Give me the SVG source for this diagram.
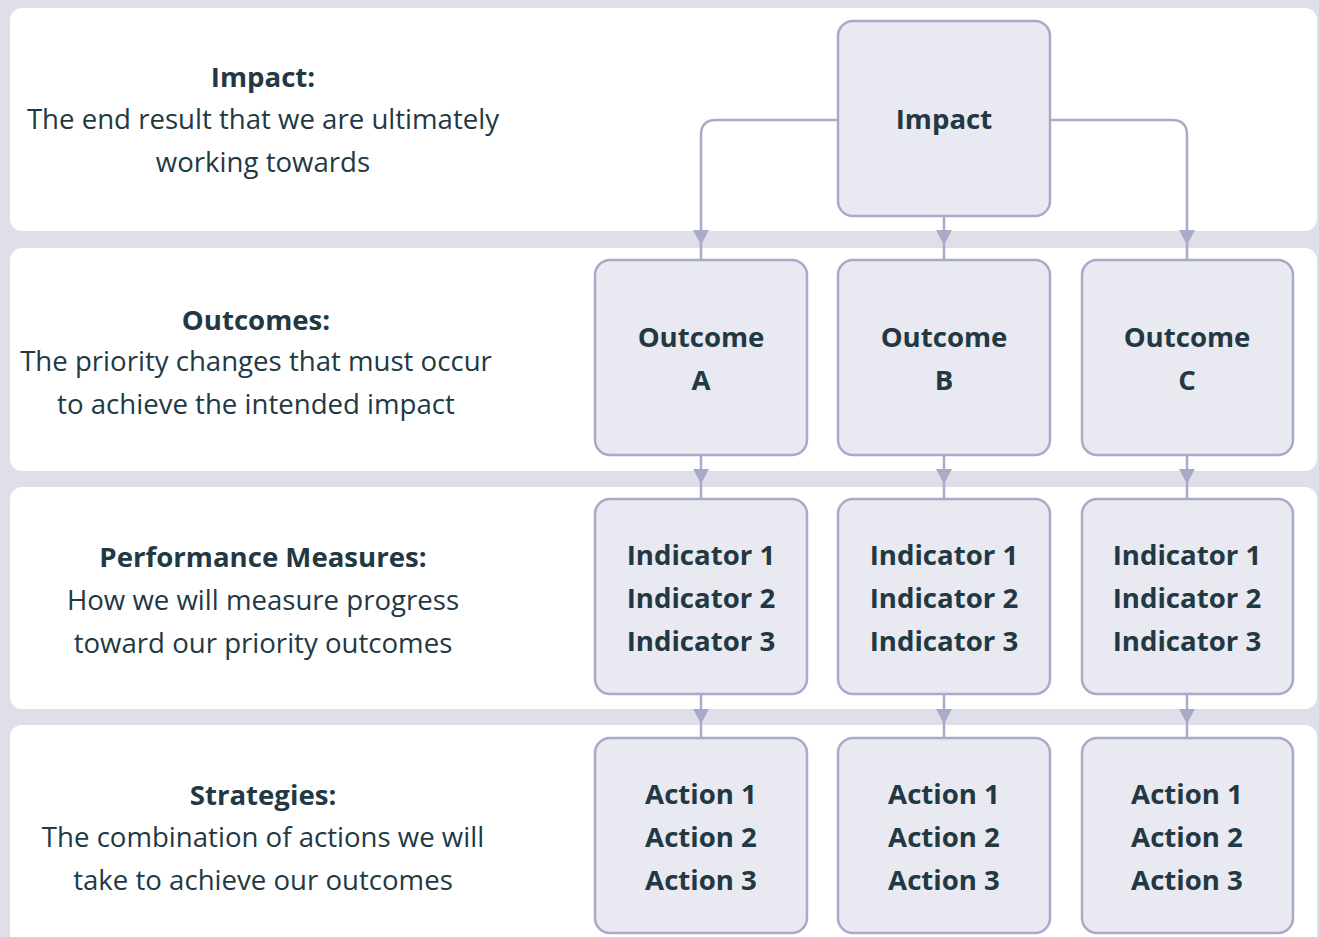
<svg xmlns="http://www.w3.org/2000/svg" width="1319" height="937" viewBox="0 0 1319 937">
<style>
.bg{fill:#dfdfe9}
.lane{fill:#ffffff}
.node rect{fill:#e9e9f1;stroke:#a9a9c8;stroke-width:2.5}
.t{font-family:"Open Sans","Noto Sans",sans-serif;font-size:27.6px;fill:#223843;text-anchor:middle}
.b{font-weight:bold}
.c{fill:none;stroke:#a9a9c8;stroke-width:2.5}
.ah{fill:#a9a9c8}
</style>
<rect class="bg" x="0" y="0" width="1319" height="937"/>
<g id="lanes">
<rect class="lane" x="10" y="8" width="1307" height="223" rx="12"/>
<rect class="lane" x="10" y="248" width="1307" height="223" rx="12"/>
<rect class="lane" x="10" y="487" width="1307" height="222" rx="12"/>
<rect class="lane" x="10" y="725" width="1307" height="230" rx="12"/>
</g>
<g id="lane-labels">
<text class="t b" x="263" y="87">Impact:</text>
<text class="t" x="263" y="129">The end result that we are ultimately</text>
<text class="t" x="263" y="172">working towards</text>
<text class="t b" x="256" y="330">Outcomes:</text>
<text class="t" x="256" y="371">The priority changes that must occur</text>
<text class="t" x="256" y="414">to achieve the intended impact</text>
<text class="t b" x="263" y="567">Performance Measures:</text>
<text class="t" x="263" y="610">How we will measure progress</text>
<text class="t" x="263" y="653">toward our priority outcomes</text>
<text class="t b" x="263" y="805">Strategies:</text>
<text class="t" x="263" y="847">The combination of actions we will</text>
<text class="t" x="263" y="890">take to achieve our outcomes</text>
</g>
<g id="connectors">
<path class="c" d="M838 120 H716 Q701 120 701 135 V260"/>
<path class="c" d="M1050 120 H1172 Q1187 120 1187 135 V260"/>
<path class="c" d="M944 216 V260"/>
<path class="c" d="M701 455 V499"/>
<path class="c" d="M944 455 V499"/>
<path class="c" d="M1187 455 V499"/>
<path class="c" d="M701 694 V738"/>
<path class="c" d="M944 694 V738"/>
<path class="c" d="M1187 694 V738"/>
<path class="ah" d="M693 230 H709 L701 245 Z"/>
<path class="ah" d="M936 230 H952 L944 245 Z"/>
<path class="ah" d="M1179 230 H1195 L1187 245 Z"/>
<path class="ah" d="M693 469 H709 L701 484 Z"/>
<path class="ah" d="M936 469 H952 L944 484 Z"/>
<path class="ah" d="M1179 469 H1195 L1187 484 Z"/>
<path class="ah" d="M693 709 H709 L701 724 Z"/>
<path class="ah" d="M936 709 H952 L944 724 Z"/>
<path class="ah" d="M1179 709 H1195 L1187 724 Z"/>
</g>
<g id="impact" class="node"><rect x="838" y="21" width="212" height="195" rx="15"/><text class="t b" x="944" y="129">Impact</text></g>
<g id="outcome-a" class="node"><rect x="595" y="260" width="212" height="195" rx="15"/><text class="t b" x="701" y="347">Outcome</text><text class="t b" x="701" y="390">A</text></g>
<g id="outcome-b" class="node"><rect x="838" y="260" width="212" height="195" rx="15"/><text class="t b" x="944" y="347">Outcome</text><text class="t b" x="944" y="390">B</text></g>
<g id="outcome-c" class="node"><rect x="1082" y="260" width="211" height="195" rx="15"/><text class="t b" x="1187" y="347">Outcome</text><text class="t b" x="1187" y="390">C</text></g>
<g id="indicators-a" class="node"><rect x="595" y="499" width="212" height="195" rx="15"/><text class="t b" x="701" y="565">Indicator 1</text><text class="t b" x="701" y="608">Indicator 2</text><text class="t b" x="701" y="651">Indicator 3</text></g>
<g id="indicators-b" class="node"><rect x="838" y="499" width="212" height="195" rx="15"/><text class="t b" x="944" y="565">Indicator 1</text><text class="t b" x="944" y="608">Indicator 2</text><text class="t b" x="944" y="651">Indicator 3</text></g>
<g id="indicators-c" class="node"><rect x="1082" y="499" width="211" height="195" rx="15"/><text class="t b" x="1187" y="565">Indicator 1</text><text class="t b" x="1187" y="608">Indicator 2</text><text class="t b" x="1187" y="651">Indicator 3</text></g>
<g id="actions-a" class="node"><rect x="595" y="738" width="212" height="195" rx="15"/><text class="t b" x="701" y="804">Action 1</text><text class="t b" x="701" y="847">Action 2</text><text class="t b" x="701" y="890">Action 3</text></g>
<g id="actions-b" class="node"><rect x="838" y="738" width="212" height="195" rx="15"/><text class="t b" x="944" y="804">Action 1</text><text class="t b" x="944" y="847">Action 2</text><text class="t b" x="944" y="890">Action 3</text></g>
<g id="actions-c" class="node"><rect x="1082" y="738" width="211" height="195" rx="15"/><text class="t b" x="1187" y="804">Action 1</text><text class="t b" x="1187" y="847">Action 2</text><text class="t b" x="1187" y="890">Action 3</text></g>
</svg>
